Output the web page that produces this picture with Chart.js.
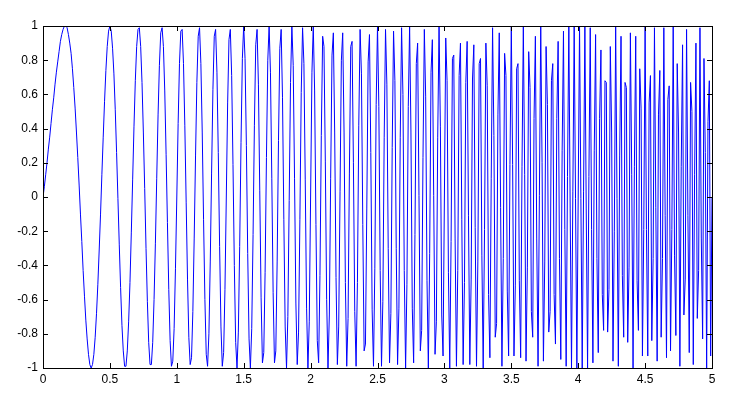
<!DOCTYPE html>
<html>
<head>
<meta charset="utf-8">
<script src="https://cdn.jsdelivr.net/npm/chart.js@4/dist/chart.umd.min.js"></script>
<style>
  html, body { margin: 0; padding: 0; background: #ffffff; }
  #wrap { width: 730px; height: 407px; }
</style>
</head>
<body>
<div id="wrap"><canvas id="chirpChart"></canvas></div>
<script>
// sampling of the signal: one value every 0.01 s from t = 0 to t = 5
const tStart = 0;
const tStep = 0.01;

// signal values
const signal = [
  0, 0.06, 0.13, 0.20, 0.28, 0.35, 0.43, 0.51, 0.58, 0.66,
  0.73, 0.79, 0.85, 0.91, 0.95, 0.98, 1.00, 1.00, 0.99, 0.95,
  0.90, 0.84, 0.75, 0.64, 0.52, 0.38, 0.23, 0.07, -0.10, -0.26,
  -0.43, -0.58, -0.72, -0.83, -0.92, -0.98, -1.00, -0.98, -0.92, -0.82,
  -0.68, -0.51, -0.31, -0.10, 0.13, 0.35, 0.56, 0.74, 0.88, 0.97,
  1.00, 0.97, 0.87, 0.72, 0.51, 0.26, -0.01, -0.28, -0.53, -0.75,
  -0.90, -0.99, -0.99, -0.90, -0.73, -0.50, -0.21, 0.10, 0.41, 0.68,
  0.88, 0.98, 0.99, 0.88, 0.67, 0.38, 0.05, -0.30, -0.61, -0.85,
  -0.98, -0.98, -0.85, -0.60, -0.27, 0.11, 0.48, 0.77, 0.96, 0.99,
  0.88, 0.62, 0.25, -0.15, -0.54, -0.84, -0.99, -0.96, -0.77, -0.42,
  0, 0.43, 0.78, 0.97, 0.98, 0.78, 0.42, -0.03, -0.48, -0.82,
  -0.98, -0.94, -0.67, -0.24, 0.24, 0.67, 0.94, 0.99, 0.78, 0.38,
  -0.13, -0.60, -0.92, -0.99, -0.80, -0.38, 0.14, 0.63, 0.94, 0.98,
  0.73, 0.26, -0.29, -0.76, -0.99, -0.91, -0.54, 0.00, 0.55, 0.92,
  0.98, 0.71, 0.19, -0.40, -0.85, -1.00, -0.79, -0.29, 0.32, 0.81,
  1.00, 0.81, 0.30, -0.33, -0.83, -1.00, -0.77, -0.22, 0.42, 0.89,
  0.98, 0.66, 0.04, -0.59, -0.97, -0.91, -0.44, 0.23, 0.80, 1.00,
  0.73, 0.11, -0.56, -0.97, -0.90, -0.38, 0.33, 0.87, 0.98, 0.58,
  -0.13, -0.76, -1.00, -0.70, -0.02, 0.67, 1.00, 0.77, 0.11, -0.62,
  -0.98, -0.79, -0.13, 0.61, 0.99, 0.78, 0.10, -0.65, -1.00, -0.73,
  0, 0.73, 1.00, 0.62, -0.16, -0.84, -0.97, -0.46, 0.36, 0.94,
  0.88, 0.21, -0.60, -1.00, -0.69, 0.11, 0.83, 0.96, 0.38, -0.47,
  -0.98, -0.76, 0.03, 0.80, 0.96, 0.38, -0.50, -0.99, -0.71, 0.14,
  0.88, 0.91, 0.20, -0.67, -0.99, -0.50, 0.42, 0.98, 0.72, -0.16,
  -0.90, -0.86, -0.07, 0.79, 0.95, 0.26, -0.66, -0.99, -0.42, 0.54,
  1.00, 0.53, -0.43, -0.99, -0.61, 0.35, 0.98, 0.66, -0.30, -0.97,
  -0.68, 0.29, 0.97, 0.68, -0.30, -0.98, -0.65, 0.35, 0.99, 0.60,
  -0.43, -1.00, -0.51, 0.53, 1.00, 0.38, -0.65, -0.97, -0.22, 0.78,
  0.90, 0.01, -0.90, -0.78, 0.23, 0.98, 0.59, -0.49, -1.00, -0.33,
  0.73, 0.92, 0.01, -0.92, -0.73, 0.35, 1.00, 0.41, -0.69, -0.93,
  0, 0.93, 0.68, -0.44, -1.00, -0.26, 0.81, 0.83, -0.24, -0.99,
  -0.43, 0.71, 0.90, -0.13, -0.98, -0.50, 0.67, 0.91, -0.11, -0.98,
  -0.48, 0.69, 0.89, -0.18, -0.99, -0.38, 0.78, 0.81, -0.34, -1.00,
  -0.19, 0.90, 0.65, -0.57, -0.94, 0.11, 0.99, 0.36, -0.82, -0.74,
  0.48, 0.96, -0.06, -0.99, -0.36, 0.84, 0.71, -0.55, -0.93, 0.19,
  1.00, 0.19, -0.93, -0.52, 0.75, 0.78, -0.49, -0.94, 0.18, 1.00,
  0.13, -0.96, -0.41, 0.85, 0.64, -0.67, -0.82, 0.46, 0.94, -0.24,
  -0.99, 0.01, 1.00, 0.20, -0.96, -0.38, 0.88, 0.54, -0.79, -0.67,
  0.68, 0.78, -0.57, -0.86, 0.46, 0.91, -0.36, -0.95, 0.27, 0.97,
  -0.19, -0.99, 0.12, 1.00, -0.07, -1.00, 0.03, 1.00, -0.01, -1.00,
  0, 1.00, -0.01, -1.00, 0.03, 1.00, -0.07, -1.00, 0.12, 0.99,
  -0.19, -0.97, 0.27, 0.95, -0.36, -0.91, 0.46, 0.86, -0.57, -0.78,
  0.68, 0.67, -0.79, -0.54, 0.88, 0.38, -0.96, -0.20, 1.00, -0.01,
  -0.99, 0.24, 0.94, -0.46, -0.82, 0.67, 0.64, -0.85, -0.41, 0.96,
  0.13, -1.00, 0.18, 0.94, -0.49, -0.78, 0.75, 0.52, -0.93, -0.19,
  1.00, -0.19, -0.93, 0.55, 0.71, -0.84, -0.36, 0.99, -0.06, -0.96,
  0.48, 0.74, -0.82, -0.36, 0.99, -0.11, -0.94, 0.57, 0.65, -0.90,
  -0.19, 1.00, -0.34, -0.81, 0.78, 0.38, -0.99, 0.18, 0.89, -0.69,
  -0.48, 0.98, -0.11, -0.91, 0.67, 0.50, -0.98, 0.13, 0.90, -0.71,
  -0.43, 0.99, -0.24, -0.83, 0.81, 0.26, -1.00, 0.44, 0.68, -0.93,
  0
];

// axis ticks
const xTicks = [0, 0.5, 1, 1.5, 2, 2.5, 3, 3.5, 4, 4.5, 5];
const xTickLabels = ['0', '0.5', '1', '1.5', '2', '2.5', '3', '3.5', '4', '4.5', '5'];
const yTicks = [-1, -0.8, -0.6, -0.4, -0.2, 0, 0.2, 0.4, 0.6, 0.8, 1];
const yTickLabels = ['-1', '-0.8', '-0.6', '-0.4', '-0.2', '0', '0.2', '0.4', '0.6', '0.8', '1'];

const points = signal.map((y, i) => ({ x: tStart + i * tStep, y: y }));

// matlab style box with ticks pointing inwards
const boxPlugin = {
    id: 'boxPlugin',
    afterDraw(chart) {
        const ctx = chart.ctx;
        const a = chart.chartArea;
        const xs = chart.scales.x;
        const ys = chart.scales.y;
        const len = 5;
        ctx.save();
        ctx.strokeStyle = '#000000';
        ctx.lineWidth = 1;
        ctx.beginPath();
        xTicks.forEach(v => {
            let px = Math.round(xs.getPixelForValue(v)) + 0.5;
            ctx.moveTo(px, a.bottom);
            ctx.lineTo(px, a.bottom - len);
            ctx.moveTo(px, a.top);
            ctx.lineTo(px, a.top + len);
        });
        yTicks.forEach(v => {
            let py = Math.round(ys.getPixelForValue(v)) + 0.5;
            ctx.moveTo(a.left, py);
            ctx.lineTo(a.left + len, py);
            ctx.moveTo(a.right, py);
            ctx.lineTo(a.right - len, py);
        });
        ctx.stroke();
        ctx.strokeRect(Math.round(a.left) + 0.5, Math.round(a.top) + 0.5,
            Math.round(a.right - a.left), Math.round(a.bottom - a.top));
        ctx.restore();
    }
};

const tickFont = { family: '"Liberation Sans", Arial, sans-serif', size: 12 };

let chirpChart = new Chart(document.getElementById('chirpChart'), {
    type: 'line',
    data: {
        datasets: [{
            data: points,
            borderColor: '#0000ff',
            borderWidth: 1,
            pointRadius: 0,
            tension: 0,
            fill: false
        }]
    },
    options: {
        responsive: true,
        maintainAspectRatio: false,
        animation: false,
        events: [],
        layout: { padding: { left: 0, top: 26, right: 18, bottom: 0 } },
        plugins: {
            legend: { display: false },
            tooltip: { enabled: false }
        },
        scales: {
            x: {
                type: 'linear',
                min: 0,
                max: 5,
                grid: { display: false, drawTicks: false },
                border: { display: false },
                afterBuildTicks: scale => { scale.ticks = xTicks.map(v => ({ value: v })); },
                afterFit: scale => { scale.height = 39; },
                ticks: {
                    color: '#000000',
                    font: tickFont,
                    padding: 4,
                    maxRotation: 0,
                    autoSkip: false,
                    callback: (v, i) => xTickLabels[i]
                }
            },
            y: {
                min: -1,
                max: 1,
                grid: { display: false, drawTicks: false },
                border: { display: false },
                afterBuildTicks: scale => { scale.ticks = yTicks.map(v => ({ value: v })); },
                afterFit: scale => { scale.width = 43; },
                ticks: {
                    color: '#000000',
                    font: tickFont,
                    padding: 5,
                    autoSkip: false,
                    callback: (v, i) => yTickLabels[i]
                }
            }
        }
    },
    plugins: [boxPlugin]
});
</script>
</body>
</html>
